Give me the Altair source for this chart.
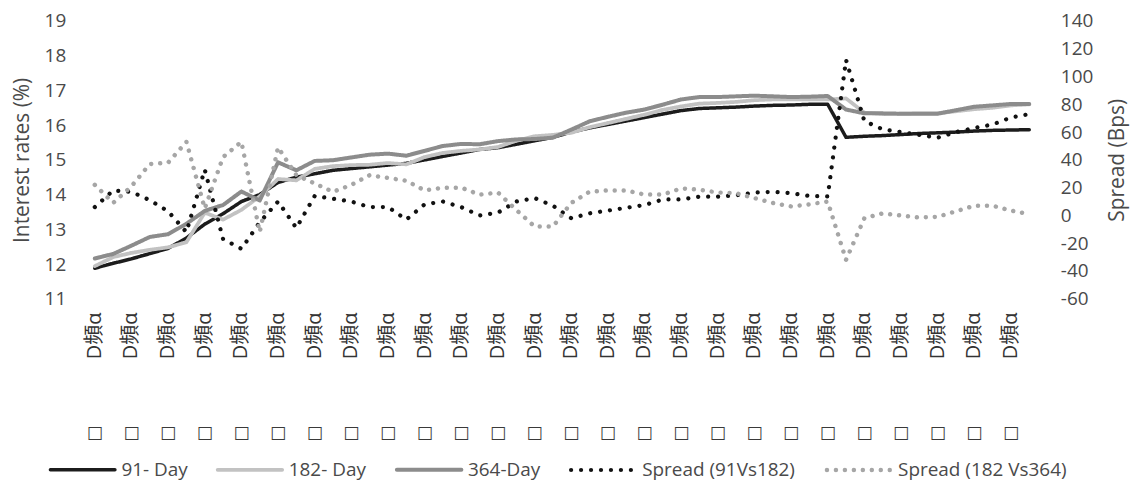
import altair as alt
import pandas as pd

# ---- data ----
x_labels = ["D頻α"] * 26          # category labels (one every second observation)
box_labels = ["□"] * 26           # second row of (unrendered) labels
obs = list(range(52))             # observation index

day91 = [11.88, 12.02, 12.15, 12.30, 12.45, 12.75, 13.15, 13.45, 13.80, 14.00,
         14.35, 14.50, 14.60, 14.70, 14.75, 14.80, 14.85, 14.90, 15.00, 15.10,
         15.20, 15.30, 15.35, 15.45, 15.55, 15.65, 15.80, 15.92, 16.02, 16.12,
         16.22, 16.32, 16.42, 16.48, 16.50, 16.52, 16.55, 16.57, 16.58, 16.60,
         16.60, 15.65, 15.68, 15.70, 15.73, 15.76, 15.78, 15.80, 15.83, 15.85,
         15.86, 15.87]
day182 = [11.94, 12.20, 12.32, 12.41, 12.48, 12.63, 13.48, 13.28, 13.56, 13.95,
          14.45, 14.41, 14.74, 14.82, 14.85, 14.86, 14.91, 14.87, 15.08, 15.20,
          15.26, 15.30, 15.37, 15.55, 15.68, 15.72, 15.78, 15.94, 16.06, 16.18,
          16.30, 16.44, 16.54, 16.62, 16.64, 16.67, 16.72, 16.74, 16.74, 16.74,
          16.74, 16.77, 16.36, 16.32, 16.33, 16.34, 16.34, 16.40, 16.46, 16.50,
          16.57, 16.60]
day364 = [12.16, 12.29, 12.53, 12.78, 12.86, 13.16, 13.53, 13.70, 14.09, 13.83,
          14.93, 14.70, 14.97, 14.99, 15.07, 15.15, 15.18, 15.12, 15.26, 15.40,
          15.46, 15.45, 15.54, 15.59, 15.60, 15.64, 15.87, 16.11, 16.24, 16.36,
          16.45, 16.59, 16.74, 16.81, 16.81, 16.83, 16.85, 16.83, 16.81, 16.82,
          16.84, 16.45, 16.34, 16.34, 16.33, 16.33, 16.33, 16.43, 16.53, 16.57,
          16.61, 16.61]
spread_91_182 = [6, 18, 17, 11, 3, -12, 33, -17, -24, -5,
                 10, -9, 14, 12, 10, 6, 6, -3, 8, 10,
                 6, 0, 2, 10, 12.5, 7, -2, 1.5, 3.5, 5.5,
                 7.5, 11.5, 11.5, 13.5, 13.5, 14.5, 16.5, 17, 16, 14,
                 13.7, 112, 68, 62, 60, 58, 56, 60, 63, 65.5,
                 70.5, 73]
spread_182_364 = [22, 9, 21, 37, 38, 53, 5, 42, 53, -12,
                  49, 29, 23, 17, 22, 29, 27, 25, 18, 20,
                  20, 15, 16.5, 4, -8, -8, 9, 17, 18, 18,
                  15, 15, 19.5, 18.5, 16.5, 16, 12.5, 9, 6.5, 8,
                  10, -32, -2, 1.5, 0, -1.5, -1, 3, 7, 7,
                  3.5, 1]

series_names = ["91- Day", "182- Day", "364-Day", "Spread (91Vs182)", "Spread (182 Vs364)"]
left_ticks = list(range(11, 20))
right_ticks = list(range(-60, 141, 20))

# ---- styling ----
colors = ["#1c1c1c", "#c2c2c2", "#8c8c8c", "#111111", "#a6a6a6"]
dashes = [[1, 0], [1, 0], [1, 0], [0.01, 10], [0.01, 9]]
widths = [3.5, 4.5, 3.5, 5, 3.5]
FONT = "Open Sans, Noto Sans CJK SC"
TXT = "#4a4a4a"

rates = pd.DataFrame({
    "obs": obs * 3,
    "value": day91 + day182 + day364,
    "series": [series_names[0]] * 52 + [series_names[1]] * 52 + [series_names[2]] * 52,
})
spreads = pd.DataFrame({
    "obs": obs * 2,
    "value": spread_91_182 + spread_182_364,
    "series": [series_names[3]] * 52 + [series_names[4]] * 52,
})
cats = pd.DataFrame({"obs": list(range(0, 52, 2)), "lab": x_labels, "box": box_labels})

leg = alt.Legend(
    title=None, orient="none", direction="horizontal", columns=5,
    legendX=-38, legendY=416, symbolType="stroke", symbolSize=4200,
    labelFont=FONT, labelFontSize=19, labelColor=TXT, labelOffset=4, labelLimit=400,
    columnPadding=22, symbolStrokeWidth=4.5,
)

color_enc = alt.Color("series:N", scale=alt.Scale(domain=series_names, range=colors), legend=leg)
dash_enc = alt.StrokeDash("series:N", scale=alt.Scale(domain=series_names, range=dashes), legend=leg)
width_enc = alt.StrokeWidth("series:N", scale=alt.Scale(domain=series_names, range=widths), legend=None)

xscale = alt.Scale(domain=[-0.5, 51.5], nice=False, zero=False)

rate_layer = alt.Chart(rates).mark_line(strokeCap="round", strokeJoin="round").encode(
    x=alt.X("obs:Q", scale=xscale, axis=None),
    y=alt.Y("value:Q", scale=alt.Scale(domain=[11, 19], nice=False, zero=False),
            axis=alt.Axis(values=left_ticks, title="Interest rates (%)", orient="left",
                          labelFont=FONT, labelFontSize=19, labelColor=TXT, labelPadding=20,
                          titleFont=FONT, titleFontSize=21, titleFontWeight="normal",
                          titleColor=TXT, titlePadding=12,
                          domain=False, ticks=False, grid=False)),
    color=color_enc, strokeDash=dash_enc, strokeWidth=width_enc,
    detail="series:N",
)

spread_layer = alt.Chart(spreads).mark_line(strokeCap="round", strokeJoin="round").encode(
    x=alt.X("obs:Q", scale=xscale, axis=None),
    y=alt.Y("value:Q", scale=alt.Scale(domain=[-60, 140], nice=False, zero=False),
            axis=alt.Axis(values=right_ticks, title="Spread (Bps)", orient="right",
                          labelExpr="toString(datum.value)",
                          labelFont=FONT, labelFontSize=19, labelColor=TXT, labelPadding=22,
                          titleFont=FONT, titleFontSize=21, titleFontWeight="normal",
                          titleColor=TXT, titlePadding=14, titleAngle=-90, titleBaseline="top",
                          domain=False, ticks=False, grid=False)),
    color=color_enc, strokeDash=dash_enc, strokeWidth=width_enc,
    detail="series:N",
)

# category labels under the plot (rotated, reading upwards)
label_layer = alt.Chart(cats).mark_text(
    font=FONT, fontSize=20, color="#333", angle=270, align="right", baseline="middle"
).encode(
    x=alt.X("obs:Q", scale=xscale, axis=None),
    y=alt.value(293),
    text="lab:N",
)

# second row of category labels: boxes
box_layer = alt.Chart(cats).mark_text(font="DejaVu Sans", fontSize=17, color="#3a3a3a").encode(
    x=alt.X("obs:Q", scale=xscale, axis=None),
    y=alt.value(414),
    text="box:N",
)

chart = alt.layer(rate_layer, spread_layer, label_layer, box_layer).resolve_scale(
    y="independent"
).properties(
    width=957, height=279,
    padding={"left": 78, "top": 12, "right": 96, "bottom": 186},
    autosize=alt.AutoSizeParams(type="none"),
).configure_view(stroke=None)

# round caps on the legend symbols so that the dotted series show as dots
legend_patch = [{
    "op": "add",
    "path": "/legends/0/encode",
    "value": {"symbols": {"update": {"strokeCap": {"value": "round"},
                                     "fill": {"value": "transparent"}}}},
}]

chart.save("out.html", embed_options={"renderer": "svg", "actions": False,
                                      "patch": legend_patch})
